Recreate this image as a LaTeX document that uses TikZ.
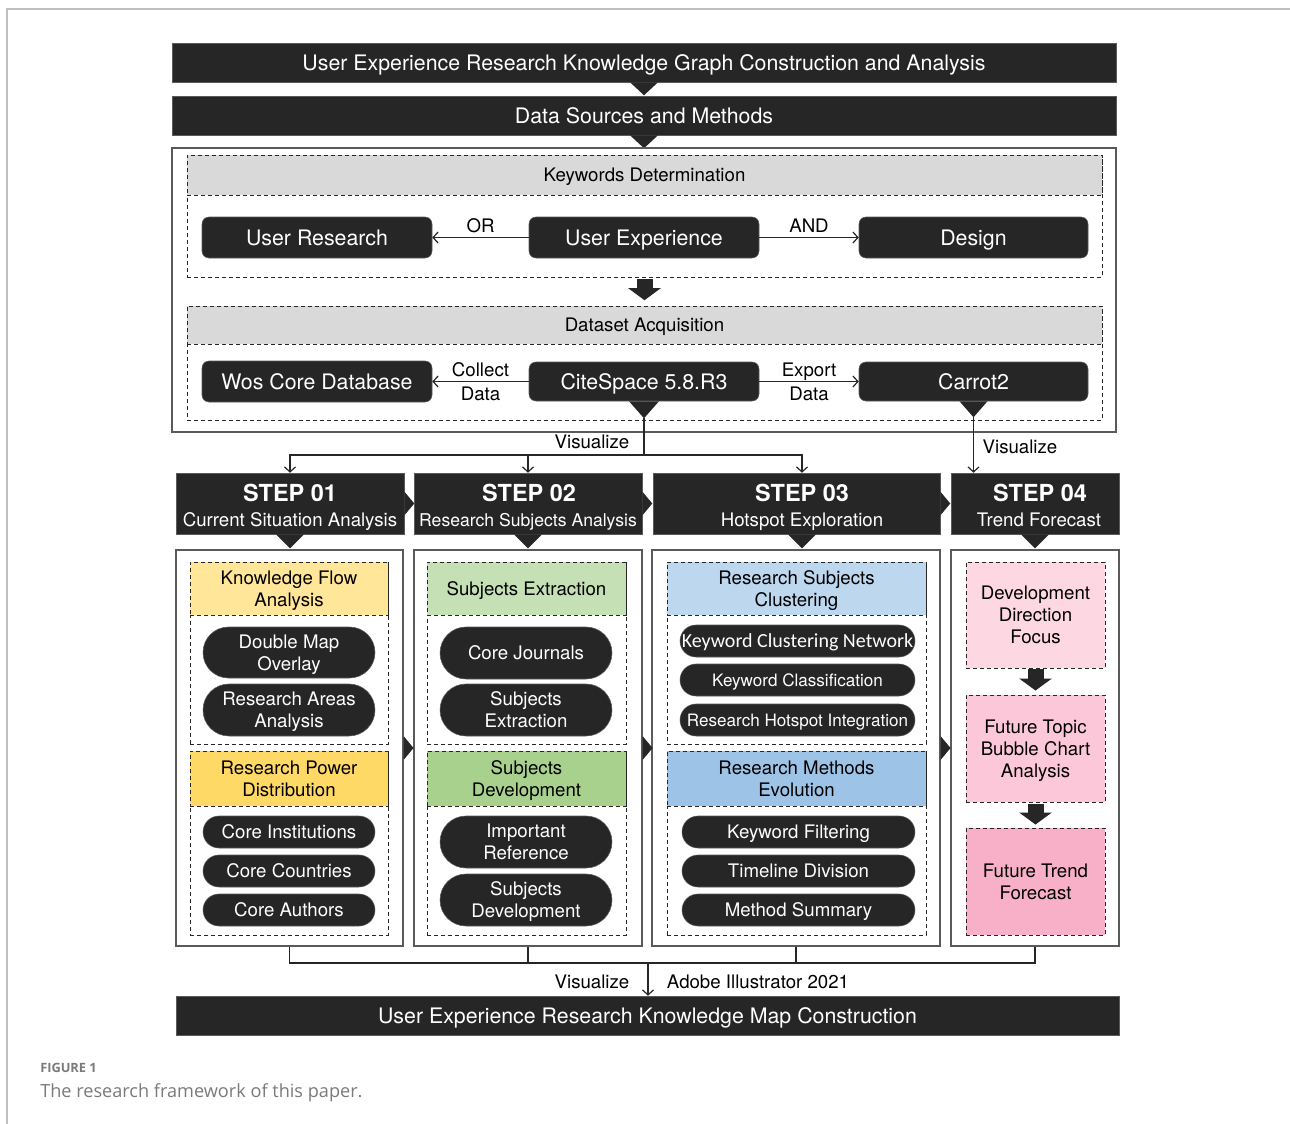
\documentclass[tikz,border=0pt]{standalone}
\usepackage{fontspec}
\setmainfont{TeX Gyre Heros}
\newfontfamily\calfont{Carlito}
\newfontfamily\capfont{Open Sans}
\usetikzlibrary{arrows.meta,shapes.misc}
\newdimen\px \px=0.75pt
\definecolor{dk}{HTML}{262626}
\definecolor{band}{HTML}{D9D9D9}
\definecolor{yA}{HTML}{FFE699}
\definecolor{yB}{HTML}{FFD966}
\definecolor{gA}{HTML}{C5E0B4}
\definecolor{gB}{HTML}{A9D18E}
\definecolor{bA}{HTML}{BDD7EE}
\definecolor{bB}{HTML}{9DC3E6}
\definecolor{pA}{HTML}{FDD8E3}
\definecolor{pB}{HTML}{FCC8D9}
\definecolor{pC}{HTML}{F8B0C8}
\definecolor{edge}{HTML}{5A5A5A}
\definecolor{capgray}{HTML}{7A7A7A}
\newcommand\fsA{\fontsize{16}{19}\selectfont}
\newcommand\fsB{\fontsize{14}{16.5}\selectfont}
\newcommand\fsD{\fontsize{12.8}{15}\selectfont}
\newcommand\R[7]{\node[#6, minimum width={(#4-#2)*\px}, minimum height={(#5-#3)*\px}] (#1) at ({(#2+#4)/2},{(#3+#5)/2}) {#7};}
\newcommand\dtri[3]{\fill[dk] ([xshift=-#2]#1) -- ([xshift=#2]#1) -- ([yshift=-#3]#1) -- cycle;}
\newcommand\rtri[3]{\fill[dk] ([yshift=#2]#1) -- ([yshift=-#2]#1) -- ([xshift=#3]#1) -- cycle;}
\tikzset{
  capA/.style={text height=11.5pt, text depth=0pt},
  capB/.style={text height=10.05pt, text depth=0pt},
  ml/.style={text height=26.55pt, text depth=0pt},
  mlt/.style={text height=43.05pt, text depth=0pt},
  bar/.style={fill=dk, draw=edge, text=white, inner sep=0pt, font=\fsA, capA},
  key/.style={fill=dk, draw=edge, rounded corners=5.25pt, text=white, inner sep=0pt, font=\fsA, capA},
  pill/.style={rounded rectangle, fill=dk, draw=edge, text=white, inner sep=0pt, align=center, font=\fsB, capB},
  outerbox/.style={draw=edge, line width=0.8pt, inner sep=0pt},
  dsh/.style={draw=dk, dash pattern=on 3pt off 2.25pt, line width=0.7pt, inner sep=0pt},
  headband/.style={dsh, align=center, font=\fsB, text=black, capB},
  stephead/.style={fill=dk, draw=edge, inner sep=0pt},
  steptitle/.style={text=white, inner sep=0pt, anchor=base, font=\bfseries\fontsize{17.6}{20}\selectfont},
  stepsub/.style={text=white, inner sep=0pt, anchor=base, font=\fsB},
  lbl/.style={font=\fsB, inner sep=0pt, align=center, capB},
  thin/.style={draw=dk, line width=0.9pt},
  arr/.style={thin, -{Straight Barb[length=3.75pt,width=8.25pt]}},
  bigarrow/.style={draw=dk, line width=12pt, -{Triangle[length=9pt,width=24pt]}},
}
\begin{document}
\begin{tikzpicture}[x=0.75pt,y=-0.75pt]
\useasboundingbox (0,0) rectangle (1290,1124);
% page frame
\draw[draw=black!25, line width=1.1pt] (7,1124) -- (7,9) -- (1290,9);

% top bars
\R{t1}{172}{43}{1116}{82}{bar}{User Experience Research Knowledge Graph Construction and Analysis}
\R{t2}{172}{96}{1116}{135}{bar}{Data Sources and Methods}
\dtri{t1.south}{14\px}{13\px}
\dtri{t2.south}{14\px}{13\px}

% main box
\R{mb}{172}{148}{1116}{432}{outerbox}{}

% keywords determination
\R{kdbox}{187}{155}{1102}{277}{dsh}{}
\R{kdh}{187}{155}{1102}{195}{headband, fill=band}{Keywords Determination}
\R{ur}{202}{217}{432}{258}{key}{User Research}
\R{ue}{529}{217}{759}{258}{key}{User Experience}
\R{de}{859}{217}{1088}{258}{key}{Design}
\draw[arr] (ue.west) -- node[lbl, anchor=south, yshift=3pt] {OR} (ur.east);
\draw[arr] (ue.east) -- node[lbl, anchor=south, yshift=3pt] {AND} (de.west);

% dataset acquisition
\R{dabox}{187}{306}{1102}{420}{dsh}{}
\R{dah}{187}{306}{1102}{344}{headband, fill=band}{Dataset Acquisition}
\draw[bigarrow, shorten <=1.5pt, shorten >=4pt] (kdbox.south) -- (dabox.north);
\R{wos}{202}{361}{432}{402}{key}{Wos Core Database}
\R{cs}{529}{362}{759}{401}{key}{CiteSpace 5.8.R3}
\R{ca}{859}{362}{1088}{401}{key}{Carrot2}
\draw[arr] (cs.west) -- node[lbl, anchor=south, yshift=3pt] {Collect} node[lbl, anchor=north, yshift=-4pt] {Data} (wos.east);
\draw[arr] (cs.east) -- node[lbl, anchor=south, yshift=3pt] {Export} node[lbl, anchor=north, yshift=-4pt] {Data} (ca.west);
\dtri{cs.south}{15\px}{17\px}
\dtri{ca.south}{14\px}{16\px}

% step headers
\R{s1}{176}{473}{404}{534}{stephead}{}
\R{s2}{414}{473}{642}{534}{stephead}{}
\R{s3}{653}{473}{940}{534}{stephead}{}
\R{s4}{951}{473}{1119}{534}{stephead}{}
\node[steptitle] (s1t) at (290,501) {STEP 01};
\node[stepsub] (s1s) at (290,526) {Current Situation Analysis};
\node[steptitle] (s2t) at (529,501) {STEP 02};
\node[stepsub, font=\fontsize{13.2}{16}\selectfont] (s2s) at (528,526) {Research Subjects Analysis};
\node[steptitle] (s3t) at (802,501) {STEP 03};
\node[stepsub] (s3s) at (802,526) {Hotspot Exploration};
\node[steptitle] (s4t) at (1040,501) {STEP 04};
\node[stepsub] (s4s) at (1039,526) {Trend Forecast};
\rtri{s1.east}{12\px}{10\px}
\rtri{s2.east}{12\px}{10\px}
\rtri{s3.east}{12\px}{10\px}
\dtri{s1.south}{14\px}{14\px}
\dtri{s2.south}{14\px}{14\px}
\dtri{s3t |- s3.south}{14\px}{14\px}
\dtri{s4.south}{14\px}{14\px}

% visualize connectors
\coordinate (cst) at ([yshift=-17\px]cs.south);
\coordinate (vj) at (cst |- 0,455);
\coordinate (cat) at ([yshift=-16\px]ca.south);
\draw[thin] (cst) -- (vj);
\draw[arr] (vj) -| (s1.north);
\draw[arr] (vj) -| (s2.north);
\draw[arr] (vj) -| (s3t |- s3.north);
\draw[arr] (cat) -- (cat |- s4.north);
\node[lbl] (vz1) at (592,442) {Visualize};
\node[lbl] (vz2) at (1020,447) {Visualize};

% column boxes
\R{c1}{176}{550}{403}{946}{outerbox}{}
\R{c2}{414}{550}{642}{946}{outerbox}{}
\R{c3}{652}{550}{940}{946}{outerbox}{}
\R{c4}{951}{550}{1119}{946}{outerbox}{}
\rtri{c1.east}{12\px}{10\px}
\rtri{c2.east}{12\px}{10\px}
\rtri{c3.east}{12\px}{10\px}

% column 1
\R{c1a}{190}{562}{388}{744}{dsh}{}
\R{c1ah}{190}{562}{388}{615}{headband, ml, fill=yA}{Knowledge Flow\\Analysis}
\R{c1p1}{203}{627}{375}{678}{pill, ml}{Double Map\\Overlay}
\R{c1p2}{203}{684}{375}{736}{pill, ml}{Research Areas\\Analysis}
\R{c1b}{190}{751}{388}{935}{dsh}{}
\R{c1bh}{190}{751}{388}{806}{headband, ml, fill=yB}{Research Power\\Distribution}
\R{c1p3}{203}{816}{375}{848}{pill}{Core Institutions}
\R{c1p4}{203}{855}{375}{887}{pill}{Core Countries}
\R{c1p5}{203}{894}{375}{926}{pill}{Core Authors}

% column 2
\R{c2a}{427}{562}{626}{744}{dsh}{}
\R{c2ah}{427}{562}{626}{615}{headband, fill=gA}{Subjects Extraction}
\R{c2p1}{440}{627}{612}{679}{pill}{Core Journals}
\R{c2p2}{440}{684}{612}{736}{pill, ml}{Subjects\\Extraction}
\R{c2b}{427}{751}{626}{935}{dsh}{}
\R{c2bh}{427}{751}{626}{806}{headband, ml, fill=gB}{Subjects\\Development}
\R{c2p3}{440}{816}{612}{868}{pill, ml}{Important\\Reference}
\R{c2p4}{440}{874}{612}{926}{pill, ml}{Subjects\\Development}

% column 3
\R{c3a}{667}{562}{926}{744}{dsh}{}
\R{c3ah}{667}{562}{926}{615}{headband, ml, fill=bA}{Research Subjects\\Clustering}
\R{c3p1}{680}{625}{915}{657}{pill, font=\calfont\fontsize{15}{17}\selectfont, text height=9.7pt}{Keyword Clustering Network}
\R{c3p2}{680}{664}{915}{696}{pill, font=\fsD, text height=9.2pt}{Keyword Classification}
\R{c3p3}{680}{704}{915}{736}{pill, font=\fsD, text height=9.2pt}{Research Hotspot Integration}
\R{c3b}{667}{751}{926}{935}{dsh}{}
\R{c3bh}{667}{751}{926}{806}{headband, ml, fill=bB}{Research Methods\\Evolution}
\R{c3p4}{682}{816}{915}{848}{pill}{Keyword Filtering}
\R{c3p5}{682}{855}{915}{887}{pill}{Timeline Division}
\R{c3p6}{682}{894}{915}{926}{pill}{Method Summary}

% column 4
\R{d1}{966}{562}{1105}{668}{headband, mlt, fill=pA}{Development\\Direction\\Focus}
\R{d2}{966}{695}{1105}{802}{headband, mlt, fill=pB}{Future Topic\\Bubble Chart\\Analysis}
\R{d3}{966}{828}{1105}{935}{headband, ml, fill=pC}{Future Trend\\Forecast}
\draw[bigarrow, shorten <=0.75pt, shorten >=3pt] (d1.south) -- (d2.north);
\draw[bigarrow, shorten <=1.5pt, shorten >=2.25pt] (d2.south) -- (d3.north);

% bottom
\R{fb}{176}{996}{1119}{1035}{bar}{User Experience Research Knowledge Map Construction}
\coordinate (bj) at (648,963);
\draw[thin] (c1.south) -- (c1.south |- bj) -- (c4.south |- bj) -- (c4.south);
\draw[thin] (c2.south) -- (c2.south |- bj);
\draw[thin] (c3.south) -- (c3.south |- bj);
\draw[arr] (bj) -- (bj |- fb.north);
\node[lbl] (vz3) at (592,982) {Visualize};
\node[lbl] (ai) at (758,982) {Adobe Illustrator 2021};

% caption
\node[anchor=west, inner sep=0pt, text=capgray, font=\capfont\bfseries\fontsize{9.6}{12}\selectfont] (fig) at (40,1068) {FIGURE 1};
\node[anchor=west, inner sep=0pt, text=capgray, font=\capfont\fontsize{13.6}{16}\selectfont] (cap) at (40,1093) {The research framework of this paper.};
\end{tikzpicture}
\end{document}
